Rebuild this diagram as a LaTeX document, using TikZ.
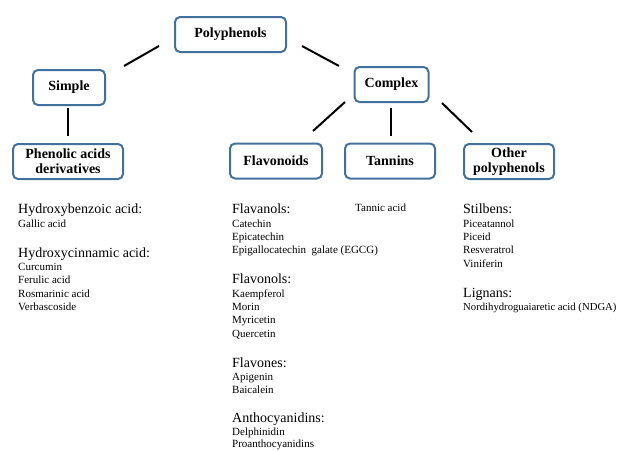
\documentclass[tikz,border=0pt]{standalone}
\usepackage{fontspec}
\setmainfont{Liberation Serif}
\definecolor{boxblue}{RGB}{65,113,156}
\begin{document}
\begin{tikzpicture}[x=1pt,y=-1pt,
  catbox/.style={draw=boxblue,line width=2pt,rounded corners=5pt,fill=white,
    font=\fontsize{14}{15}\selectfont\bfseries,align=center,inner sep=0pt},
  conn/.style={line width=2pt,draw=black},
  head/.style={anchor=base west,inner sep=0pt,font=\fontsize{14}{16}\selectfont},
  item/.style={anchor=base west,inner sep=0pt,font=\fontsize{11}{13.4}\selectfont}]
\useasboundingbox (0,0) rectangle (621,450);
% boxes
\node[catbox,minimum width=111pt,minimum height=35pt] (poly) at (230.5,34.5) {Polyphenols};
\node[catbox,minimum width=72pt,minimum height=35pt] (simple) at (69,87.5) {Simple};
\node[catbox,minimum width=74pt,minimum height=35pt] (complex) at (391.5,84.5) {Complex};
\node[catbox,minimum width=110pt,minimum height=35pt] (phen) at (68,161.5) {Phenolic acids\\derivatives};
\node[catbox,minimum width=92pt,minimum height=35pt] (flav) at (276,161) {Flavonoids};
\node[catbox,minimum width=90pt,minimum height=35pt] (tann) at (390,161) {Tannins};
\node[catbox,minimum width=90pt,minimum height=35pt] (other) at (509,161.5) {Other\\polyphenols};
% connector ends
\coordinate (ps1) at (159,46);   \coordinate (ps2) at (124,66);
\coordinate (pc1) at (302,46);   \coordinate (pc2) at (339,66);
\coordinate (sp1) at (68,108);   \coordinate (sp2) at (68,136);
\coordinate (cf1) at (345,102);  \coordinate (cf2) at (313,131);
\coordinate (ct1) at (391,108);  \coordinate (ct2) at (391,136);
\coordinate (co1) at (442,103);  \coordinate (co2) at (472,132);
\draw[conn] (ps1) -- (ps2);
\draw[conn] (pc1) -- (pc2);
\draw[conn] (sp1) -- (sp2);
\draw[conn] (cf1) -- (cf2);
\draw[conn] (ct1) -- (ct2);
\draw[conn] (co1) -- (co2);
% left column
\node[head] (hb) at (18,213.5) {Hydroxybenzoic acid:};
\node[item] (ga) at (18,227) {Gallic acid};
\node[head] (hc) at (18,257) {Hydroxycinnamic acid:};
\node[item] (cu) at (18,270.5) {Curcumin};
\node[item] (fe) at (18,283.9) {Ferulic acid};
\node[item] (ro) at (18,297.3) {Rosmarinic acid};
\node[item] (ve) at (18,310.7) {Verbascoside};
% flavonoids column
\node[head] (fa) at (232,213.5) {Flavanols:};
\node[item] (ca) at (232,227) {Catechin};
\node[item] (ep) at (232,240.4) {Epicatechin};
\node[item] (eg) at (232,253.8) {Epigallocatechin\ \ galate (EGCG)};
\node[head] (fo) at (232,283.5) {Flavonols:};
\node[item] (ka) at (232,297) {Kaempferol};
\node[item] (mo) at (232,310.4) {Morin};
\node[item] (my) at (232,323.8) {Myricetin};
\node[item] (qu) at (232,337.2) {Quercetin};
\node[head] (fn) at (232,367) {Flavones:};
\node[item] (ap) at (232,380) {Apigenin};
\node[item] (ba) at (232,393.4) {Baicalein};
\node[head] (an) at (232,422.5) {Anthocyanidins:};
\node[item] (de) at (232,435.2) {Delphinidin};
\node[item] (pr) at (232,447.5) {Proanthocyanidins};
% tannins
\node[item] (ta) at (355,211) {Tannic acid};
% other
\node[head] (st) at (463,213.5) {Stilbens:};
\node[item] (pi) at (463,227) {Piceatannol};
\node[item] (pd) at (463,240.4) {Piceid};
\node[item] (re) at (463,253.8) {Resveratrol};
\node[item] (vi) at (463,267.2) {Viniferin};
\node[head] (li) at (463,297) {Lignans:};
\node[item,font=\fontsize{10.7}{13.4}\selectfont] (nd) at (463,310.5) {Nordihydroguaiaretic acid (NDGA)};
\end{tikzpicture}
\end{document}
